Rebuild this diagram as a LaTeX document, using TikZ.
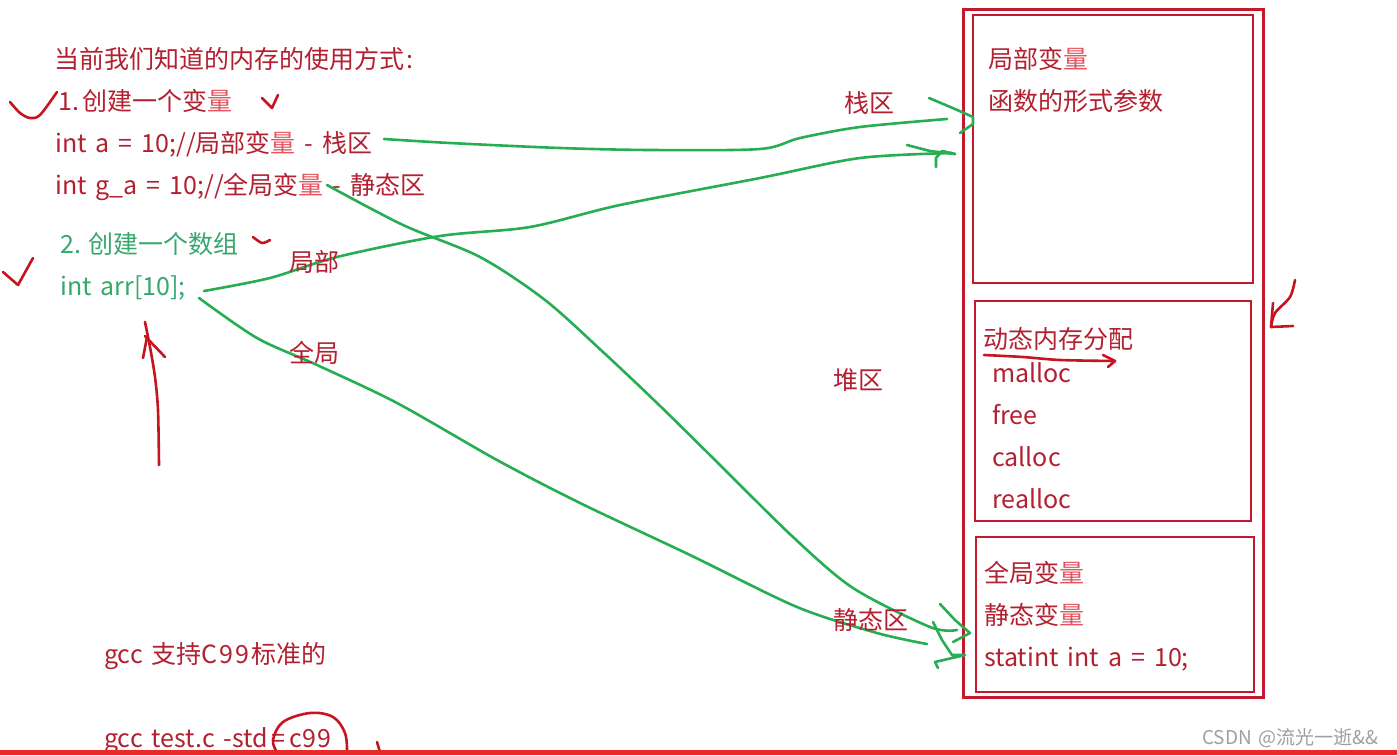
\documentclass[tikz,border=0pt]{standalone}
\usepackage{fontspec}
\setmainfont[WordSpace=1.6]{Noto Sans CJK SC}
\definecolor{ink}{HTML}{B3202F}
\definecolor{soft}{HTML}{E2555F}
\definecolor{boxred}{HTML}{C4182C}
\definecolor{pen}{HTML}{C8141E}
\definecolor{gtext}{HTML}{35A86C}
\definecolor{gpen}{HTML}{27AD52}
\definecolor{barred}{HTML}{EA2A2A}
\newcommand{\liang}{\textcolor{soft}{量}}
\tikzset{
  txt/.style={anchor=base west,inner sep=0pt,text=ink,font=\fontsize{25}{30}\selectfont},
  gtxt/.style={txt,text=gtext},
  wmark/.style={txt,text=gray!75,font=\fontsize{19}{22}\selectfont},
  regionbox/.style={draw=boxred,line width=2.8pt,fill=none,inner sep=0pt},
  gline/.style={draw=gpen,line width=2.6pt,line cap=round,line join=round},
  rline/.style={draw=pen,line width=2.6pt,line cap=round,line join=round},
}
\begin{document}
\begin{tikzpicture}[x=1pt,y=-1pt]
\useasboundingbox[fill=white] (0,0) rectangle (1397,755);
% boxes
\draw[regionbox,line width=3pt] (963,9) rectangle (1263,697);
\draw[regionbox] (973,15) rectangle (1253,283);
\draw[regionbox] (975,301) rectangle (1251,521);
\draw[regionbox] (976,537) rectangle (1254,692);
% left text
\node[txt] (title) at (54,68) {当前我们知道的内存的使用方式\hspace{2pt}:};
\node[txt] (one) at (58,110) {1.\hspace{3.5pt}创建一个变\liang};
\node[txt] (vara) at (55,152) {int a = 10;//局部变\liang{} - 栈区};
\node[txt] (varg) at (55,194) {int g\_a = 10;//全局变\liang{} - 静态区};
\node[gtxt] (two) at (60,253) {2.\hspace{7.5pt}创建一个数组};
\node[gtxt] (arr) at (60,295) {int arr[10];};
\node[txt] (gcca) at (104,663) {gcc 支持C\hspace{2pt}9\hspace{2pt}9\hspace{2pt}标准的};
\node[txt] (gccb) at (104,747) {gcc test.c -std\hspace{3pt}=\hspace{4pt}c\hspace{1pt}9\hspace{1pt}9};
% anchors of the connectors
\coordinate (sa) at (384,139);
\coordinate (ea) at (947,119);
\coordinate (sb) at (204,291);
\coordinate (eb) at (952,153);
\coordinate (sc) at (327,185);
\coordinate (ec) at (957,630);
\coordinate (sd) at (199,298);
\coordinate (ed) at (927,644);
% connectors
\draw[gline] plot[smooth,tension=.5] coordinates {(sa) (450,143) (560,148) (650,150) (760,149) (800,138) (860,127) (ea)};
\draw[gline] plot[smooth,tension=.5] coordinates {(sb) (270,278) (337,257) (440,236) (530,227) (620,205) (760,178) (860,158) (eb)};
\draw[gline] plot[smooth,tension=.5] coordinates {(sc) (403,225) (480,257) (545,300) (603,352) (657,403) (717,462) (793,537) (853,588) (930,627) (ec)};
\draw[gline] plot[smooth,tension=.5] coordinates {(sd) (257,338) (317,365) (397,403) (497,460) (580,503) (690,555) (797,607) (877,633) (ed)};
% green arrow heads
\draw[gline] (929,98) -- (955,109) -- (973,117) -- (973,124) -- (960,133);
\draw[gline] (907,145) -- (930,151) -- (955,154);
\draw[gline] (955,154) -- (942,151) -- (936,158) -- (936,167);
\draw[gline] (940,604) -- (955,620) -- (970,633) -- (953,642);
\draw[gline] (933,622) -- (942,640) -- (952,655) -- (965,655) -- (935,662) -- (938,668);
% labels
\node[txt] (lju) at (289,271) {局部};
\node[txt] (qju) at (289,362) {全局};
\node[txt] (zhan) at (844,112) {栈区};
\node[txt] (dui) at (833,389) {堆区};
\node[txt] (jing) at (833,629) {静态区};
% box texts
\node[txt] (r1) at (988,68) {局部变\liang};
\node[txt] (r2) at (988,110) {函数的形式参数};
\node[txt] (h0) at (983,348) {动态内存分配};
\node[txt] (h1) at (992,382) {malloc};
\node[txt] (h2) at (992,424) {free};
\node[txt] (h3) at (992,466) {calloc};
\node[txt] (h4) at (992,508) {realloc};
\node[txt] (s1) at (984,582) {全局变\liang};
\node[txt] (s2) at (984,624) {静态变\liang};
\node[txt] (s3) at (984,666) {statint int a = 10;};
\node[wmark] (wm) at (1202,744) {CSDN @流光一逝\&\&};
% red pen strokes
\draw[rline] plot[smooth,tension=.5] coordinates {(10,102) (20,113) (30,118) (40,115) (57,92)};
\draw[rline] (262,98) -- (272,108) -- (278,95);
\draw[rline] plot[smooth] coordinates {(253,237) (262,243) (270,240)};
\draw[rline] (3,272) -- (18,285) -- (33,258);
\draw[rline] plot[smooth,tension=.5] coordinates {(159,465) (158,410) (155,377) (150,347) (145,322)};
\draw[rline] (143,358) -- (147,337);
\draw[rline] (145,336) -- (165,357);
\draw[rline] plot[smooth,tension=.5] coordinates {(1295,280) (1290,297) (1275,313) (1271,327)};
\draw[rline] (1273,303) -- (1271,327) -- (1293,326);
\draw[rline] plot[smooth,tension=.5] coordinates {(984,355) (1023,357) (1060,360) (1115,361)};
\draw[rline] (1103,355) -- (1115,361) -- (1108,367);
\draw[rline] plot[smooth,tension=.6] coordinates {(277,752) (273,740) (283,722) (310,713) (333,717) (345,733) (347,752)};
\draw[rline] (377,742) -- (380,752);
% bottom bar
\fill[barred] (0,750) rectangle (1397,755);
\end{tikzpicture}
\end{document}
